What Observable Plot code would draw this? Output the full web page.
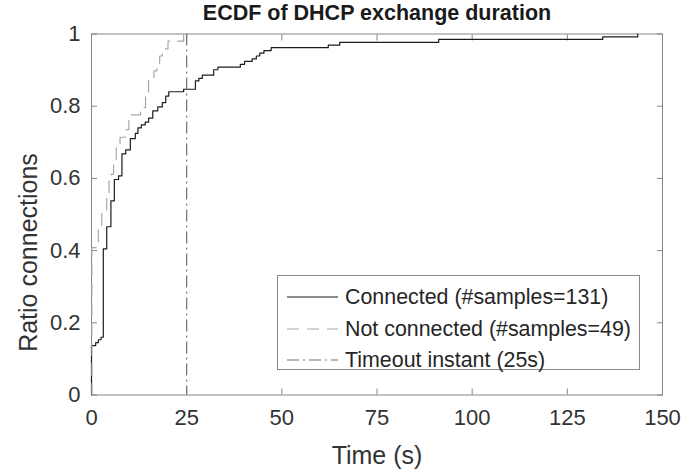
<!DOCTYPE html>
<html>
<head>
<meta charset="utf-8">
<script src="https://cdn.jsdelivr.net/npm/d3@7"></script>
<script src="https://cdn.jsdelivr.net/npm/@observablehq/plot@0.6"></script>
<style>
  html, body { margin: 0; padding: 0; background: #fff; }
  #chart { position: relative; width: 700px; height: 473px; font-family: "Liberation Sans", Arial, Helvetica, sans-serif; }
  #legend { position: absolute; left: 277px; top: 275px; width: 363px; height: 95px; border: 1px solid #8a8a8a; background: #fff; box-sizing: border-box; }
  .lrow { position: absolute; left: 0; height: 30px; display: flex; align-items: center; font-size: 21.4px; color: #262626; white-space: nowrap; }
  .lrow svg { margin-left: 9px; margin-right: 7px; }
</style>
</head>
<body>
<div id="chart"></div>
<script>
// ---- data ----
const titleText = "ECDF of DHCP exchange duration";
const xLabel = "Time (s)";
const yLabel = "Ratio connections";
const xTicks = [0, 25, 50, 75, 100, 125, 150];
const yTicks = [0, 0.2, 0.4, 0.6, 0.8, 1];
const timeout = [25];

// Connected (#samples=131): step times (s) and ECDF value after each step
const connectedTime  = [0, 0, 1.1, 1.8, 2.5, 3.1, 4.0, 5.1, 6.0, 7.1, 8.0, 9.0, 10.2, 11.5, 12.2, 13.1, 14.1, 15.0, 16.1, 17.4, 18.6, 19.5, 20.3, 24.2, 27.3, 28.2, 29.1, 32.1, 33.2, 39.1, 40.2, 42.2, 43.3, 44.2, 45.3, 47.2, 62.2, 65.2, 91.2, 134.3, 143.5];
const connectedRatio = [0, 0.137, 0.145, 0.153, 0.160, 0.405, 0.466, 0.538, 0.597, 0.607, 0.668, 0.679, 0.710, 0.725, 0.740, 0.748, 0.756, 0.767, 0.787, 0.798, 0.810, 0.828, 0.840, 0.847, 0.870, 0.877, 0.886, 0.901, 0.908, 0.916, 0.924, 0.931, 0.939, 0.947, 0.954, 0.962, 0.969, 0.977, 0.985, 0.992, 1.0];

// Not connected (#samples=49)
const notConnectedTime  = [0, 0.1, 1.8, 2.7, 4.0, 4.6, 5.2, 5.8, 6.5, 7.5, 8.9, 9.8, 12.9, 14.2, 15.0, 16.4, 17.2, 17.9, 18.6, 20.1, 24.2];
const notConnectedRatio = [0, 0.408, 0.469, 0.510, 0.551, 0.592, 0.612, 0.653, 0.694, 0.714, 0.735, 0.776, 0.796, 0.837, 0.878, 0.898, 0.918, 0.939, 0.959, 0.980, 1.0];

const legendLabels = ["Connected (#samples=131)", "Not connected (#samples=49)", "Timeout instant (25s)"];

// ---- styles ----
const frameColor = "#858585";
const textColor = "#333333";
const connectedColor = "#1c1c1c";
const notConnectedColor = "#a8a8a8";
const timeoutColor = "#707070";
const dashed = "12,8";
const dashDot = "12,4,2,4";

const connected = connectedTime.map((t, i) => ({t, v: connectedRatio[i]}));
const notConnected = notConnectedTime.map((t, i) => ({t, v: notConnectedRatio[i]}));

const plot = Plot.plot({
  width: 700,
  height: 473,
  marginLeft: 91,
  marginRight: 38,
  marginTop: 33.5,
  marginBottom: 78.5,
  style: {fontFamily: "'Liberation Sans', Arial, Helvetica, sans-serif", color: textColor, background: "#fff", overflow: "visible"},
  x: {domain: [0, 150]},
  y: {domain: [0, 1]},
  marks: [
    Plot.frame({stroke: frameColor}),
    // inward ticks on all four sides
    Plot.axisX({ticks: xTicks, anchor: "bottom", tickSize: -6, tickFormat: () => "", stroke: frameColor, label: null}),
    Plot.axisX({ticks: xTicks, anchor: "top", tickSize: -6, tickFormat: () => "", stroke: frameColor, label: null}),
    Plot.axisY({ticks: yTicks, anchor: "left", tickSize: -6, tickFormat: () => "", stroke: frameColor, label: null}),
    Plot.axisY({ticks: yTicks, anchor: "right", tickSize: -6, tickFormat: () => "", stroke: frameColor, label: null}),
    // tick labels
    Plot.axisX({ticks: xTicks, anchor: "bottom", tickSize: 0, tickPadding: 14, fontSize: 22, fill: textColor, label: null, tickFormat: d => String(d)}),
    Plot.axisY({ticks: yTicks, anchor: "left", tickSize: 0, tickPadding: 11, fontSize: 22, fill: textColor, label: null, tickFormat: d => String(d)}),
    // data
    Plot.line(connected, {x: "t", y: "v", curve: "step-after", stroke: connectedColor, strokeWidth: 1.2}),
    Plot.line(notConnected, {x: "t", y: "v", curve: "step-after", stroke: notConnectedColor, strokeWidth: 1.2, strokeDasharray: dashed}),
    Plot.ruleX(timeout, {stroke: timeoutColor, strokeWidth: 1.2, strokeDasharray: dashDot}),
    // titles
    Plot.text([titleText], {frameAnchor: "top", dy: -21, lineAnchor: "middle", textAnchor: "middle", fontSize: 21.5, fontWeight: "bold", fill: "#1a1a1a"}),
    Plot.text([xLabel], {frameAnchor: "bottom", dy: 60.5, lineAnchor: "middle", textAnchor: "middle", fontSize: 25, fill: textColor}),
    Plot.text([yLabel], {frameAnchor: "left", dx: -63, dy: 38, rotate: -90, lineAnchor: "middle", textAnchor: "middle", fontSize: 25, fill: textColor})
  ]
});

const chart = document.getElementById("chart");
chart.appendChild(plot);

// legend
const legend = document.createElement("div");
legend.id = "legend";
const legendStyles = [
  {stroke: connectedColor, dash: null},
  {stroke: notConnectedColor, dash: dashed},
  {stroke: timeoutColor, dash: dashDot}
];
const rowTops = [6, 38, 69];
legendLabels.forEach((label, i) => {
  const row = document.createElement("div");
  row.className = "lrow";
  row.style.top = rowTops[i] + "px";
  const svg = d3.create("svg").attr("width", 51).attr("height", 10);
  svg.append("line").attr("x1", 0).attr("x2", 51).attr("y1", 5).attr("y2", 5)
    .attr("stroke", legendStyles[i].stroke).attr("stroke-width", 1.2)
    .attr("stroke-dasharray", legendStyles[i].dash);
  row.appendChild(svg.node());
  const span = document.createElement("span");
  span.textContent = label;
  row.appendChild(span);
  legend.appendChild(row);
});
chart.appendChild(legend);
</script>
</body>
</html>
